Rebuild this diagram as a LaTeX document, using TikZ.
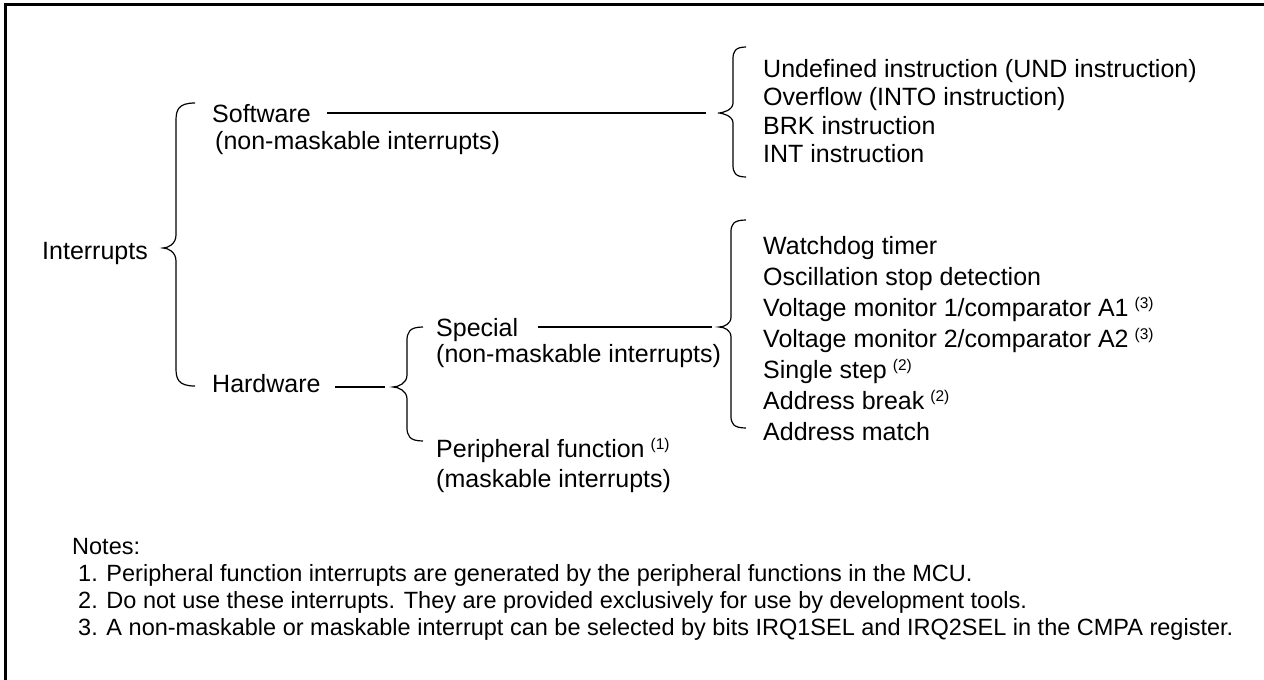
\documentclass[tikz,border=0pt]{standalone}
\usepackage{fontspec}
\setmainfont{Liberation Sans}
\newcommand{\curlybrace}[8]{% tipx tipy spinex endx top bottom endcurl tipcurl
  \draw[brace] (#4,#5) .. controls (#3+2,#5) and (#3,#5+#7*0.4) .. (#3,#5+#7)
    -- (#3,#2-#8) .. controls (#3,#2-#8*0.3) and (#1+5,#2) .. (#1,#2)
    .. controls (#1+5,#2) and (#3,#2+#8*0.3) .. (#3,#2+#8)
    -- (#3,#6-#7) .. controls (#3,#6-#7*0.4) and (#3+2,#6) .. (#4,#6);}
\newcommand{\sups}[1]{\hspace{6pt}{\fontsize{15.5}{15.5}\selectfont\raisebox{8pt}{#1}}}
\begin{document}
\begin{tikzpicture}[x=1pt,y=-1pt,
  brace/.style={line width=1.2pt},
  conn/.style={line width=1.2pt},
  lbl/.style={anchor=base west, inner sep=0pt, font=\fontsize{25}{29}\selectfont},
  note/.style={anchor=base west, inner sep=0pt, font=\fontsize{23.5}{27}\selectfont}]
\useasboundingbox (0,0) rectangle (1264,680);
\draw[line width=3pt] (5.5,680) -- (5.5,4.5) -- (1264,4.5);

% level 0
\node[lbl] (int) at (42,259) {Interrupts};
\curlybrace{163}{248}{176}{195}{103}{386}{18}{13}

% level 1
\node[lbl] (sw) at (212,122) {Software};
\node[lbl] (swn) at (215,149) {(non-maskable interrupts)};
\node[lbl] (hw) at (212,392) {Hardware};

% software list
\coordinate (swl) at (327,113);
\coordinate (swtip) at (706,113);
\draw[conn] (swl) -- (swtip);
\curlybrace{718}{113}{733}{746}{47}{177}{12}{10}
\node[lbl] (u1) at (763,77) {Undefined instruction (UND instruction)};
\node[lbl] (u2) at (763,105.5) {Overflow (INTO instruction)};
\node[lbl] (u3) at (763,134) {BRK instruction};
\node[lbl] (u4) at (763,162.5) {INT instruction};

% hardware
\coordinate (hwl) at (335,387);
\coordinate (hwtip) at (385,387);
\draw[conn] (hwl) -- (hwtip);
\curlybrace{393}{387}{407}{423}{327}{441}{14}{12}
\node[lbl] (sp) at (436,336) {Special};
\node[lbl] (spn) at (436,362) {(non-maskable interrupts)};
\node[lbl] (pf) at (436,457) {Peripheral function\sups{(1)}};
\node[lbl] (pfn) at (436,487) {(maskable interrupts)};

% special list
\coordinate (spl) at (538,327);
\coordinate (sptip) at (712,327);
\draw[conn] (spl) -- (sptip);
\curlybrace{719}{327}{731}{746}{220}{428}{12}{10}
\node[lbl] (h1) at (763,254) {Watchdog timer};
\node[lbl] (h2) at (763,285) {Oscillation stop detection};
\node[lbl] (h3) at (763,316) {Voltage monitor 1/comparator A1\sups{(3)}};
\node[lbl] (h4) at (763,347) {Voltage monitor 2/comparator A2\sups{(3)}};
\node[lbl] (h5) at (763,378) {Single step\sups{(2)}};
\node[lbl] (h6) at (763,409) {Address break\sups{(2)}};
\node[lbl] (h7) at (763,440) {Address match};

% notes
\node[note] (n0) at (72,554) {Notes:};
\node[note] (n1) at (78,581) {1. Peripheral function interrupts are generated by the peripheral functions in the MCU.};
\node[note] (n2) at (78,608) {2. Do not use these interrupts. They are provided exclusively for use by development tools.};
\node[note] (n3) at (78,635) {3. A non-maskable or maskable interrupt can be selected by bits IRQ1SEL and IRQ2SEL in the CMPA register.};
\end{tikzpicture}
\end{document}
